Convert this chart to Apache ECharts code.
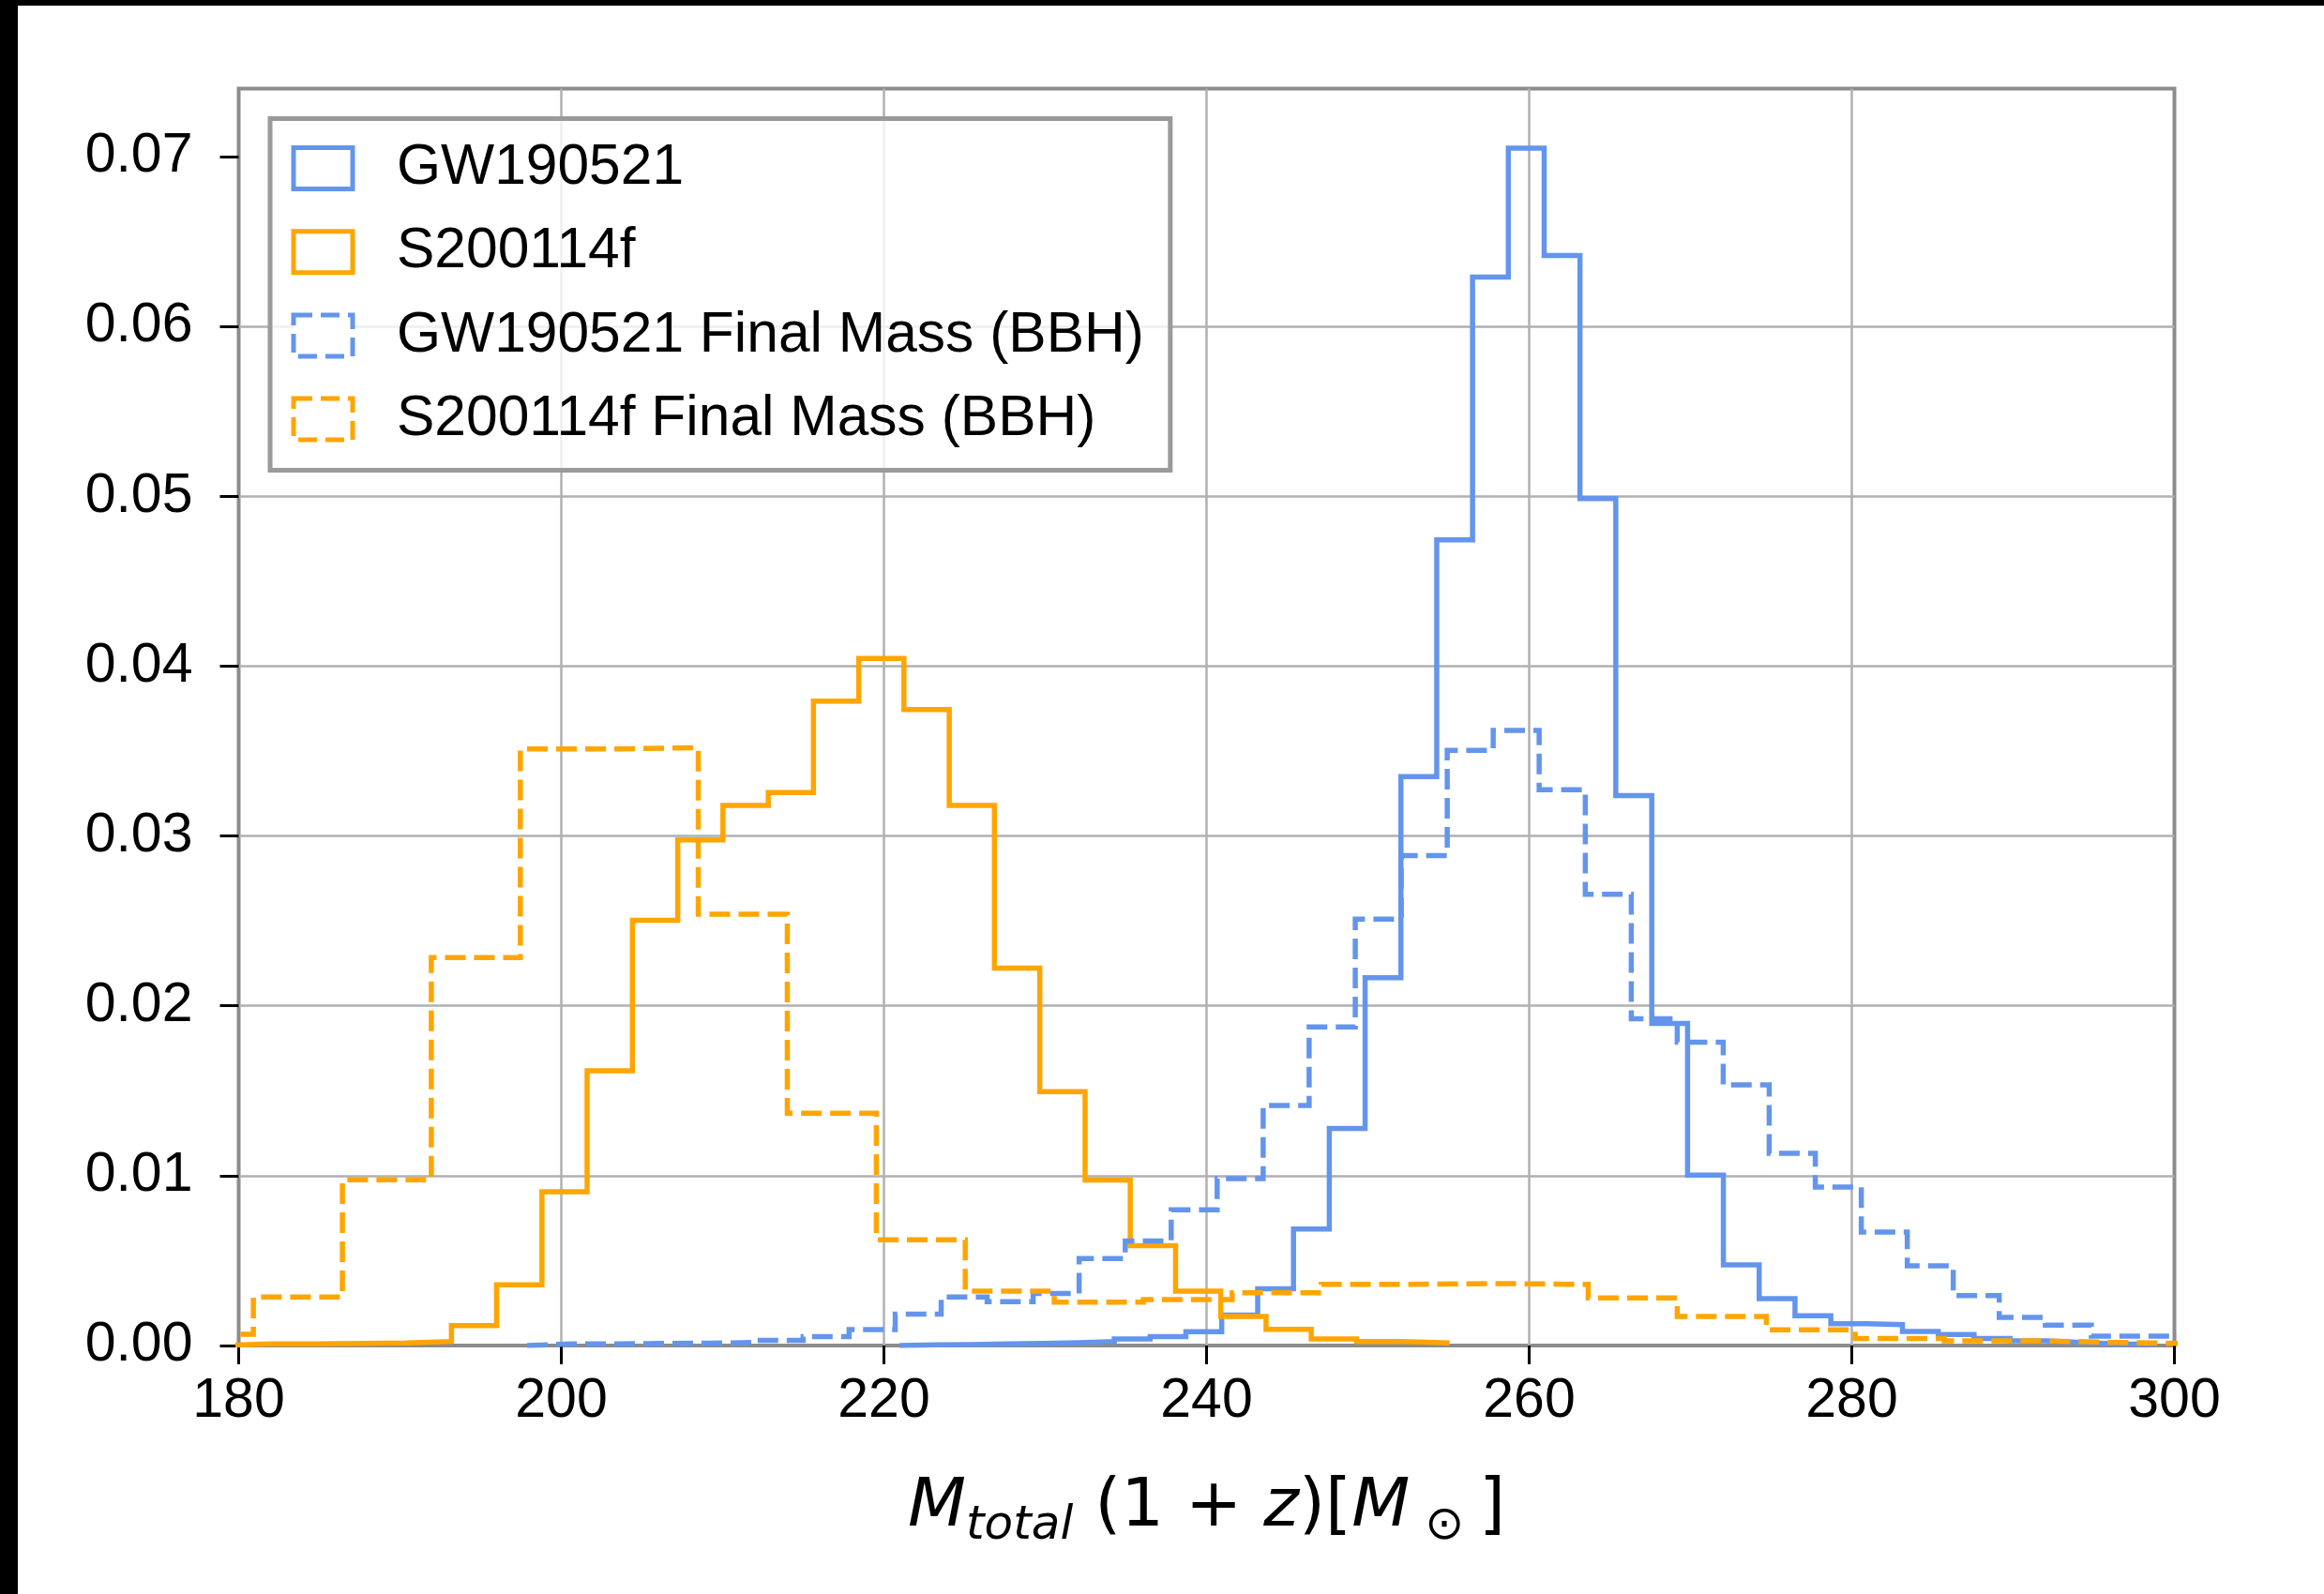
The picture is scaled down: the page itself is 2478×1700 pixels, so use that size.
<!DOCTYPE html>
<html>
<head>
<meta charset="utf-8">
<script src="https://cdn.jsdelivr.net/npm/echarts@6/dist/echarts.min.js"></script>
<style>
html,body{margin:0;padding:0;background:#ffffff;}
#chart{width:2478px;height:1700px;}
</style>
</head>
<body>
<div id="chart"></div>
<script>
// ---- data (histogram densities) ----
const seriesNames = ['GW190521', 'S200114f', 'GW190521 Final Mass (BBH)', 'S200114f Final Mass (BBH)'];

const gwEdges = [220.96, 223.18, 225.40, 227.62, 229.84, 232.06, 234.28, 236.50, 238.72, 240.94,
  243.17, 245.39, 247.61, 249.83, 252.05, 254.27, 256.49, 258.71, 260.93, 263.15,
  265.37, 267.60, 269.82, 272.04, 274.26, 276.48, 278.70, 280.92, 283.14, 285.36,
  287.58, 289.81, 292.03, 294.25, 296.47, 298.69];
const gwDensity = [0.00004, 0.00006, 0.0001, 0.00012, 0.00016, 0.00024, 0.00039, 0.00052, 0.00081, 0.00179,
  0.00334, 0.00686, 0.01278, 0.02165, 0.03349, 0.04743, 0.0629, 0.0705, 0.06417, 0.04986,
  0.03238, 0.01896, 0.01003, 0.00475, 0.00276, 0.00175, 0.00129, 0.00123, 0.00083, 0.00065,
  0.00042, 0.00028, 0.00018, 0.0001, 0.00008];

const sEdges = [179.16, 181.97, 184.77, 187.58, 190.38, 193.19, 195.99, 198.80, 201.60, 204.41,
  207.22, 210.02, 212.83, 215.63, 218.44, 221.24, 224.05, 226.85, 229.66, 232.47,
  235.27, 238.08, 240.88, 243.69, 246.49, 249.30, 252.10, 254.91];
const sDensity = [0.0001, 0.0001, 0.00012, 0.00015, 0.00024, 0.00117, 0.00357, 0.00906, 0.01617, 0.02504,
  0.02977, 0.0318, 0.03256, 0.03794, 0.04045, 0.03744, 0.0318, 0.02222, 0.01495, 0.00974,
  0.00588, 0.0032, 0.00171, 0.00095, 0.00039, 0.00024, 0.00016];

const gwFinalEdges = [197.88, 200.73, 203.58, 206.44, 209.29, 212.14, 214.99, 217.84, 220.70, 223.55,
  226.40, 229.25, 232.10, 234.96, 237.81, 240.66, 243.51, 246.36, 249.22, 252.07,
  254.92, 257.77, 260.62, 263.48, 266.33, 269.18, 272.03, 274.88, 277.74, 280.59,
  283.44, 286.29, 289.14, 292.00, 294.85, 297.70, 300.55];
const gwFinalDensity = [0.0001, 0.0001, 0.00012, 0.00014, 0.00018, 0.0003, 0.00052, 0.00094, 0.00185, 0.00286,
  0.00258, 0.00306, 0.00512, 0.00616, 0.00799, 0.00982, 0.01413, 0.01876, 0.0251, 0.02884,
  0.03504, 0.03622, 0.03272, 0.02657, 0.01924, 0.01786, 0.01534, 0.01132, 0.00933, 0.00668,
  0.00469, 0.00294, 0.00166, 0.0012, 0.00055, 0.00055];

const sFinalEdges = [175.39, 180.91, 186.43, 191.94, 197.46, 202.98, 208.49, 214.01, 219.53, 225.04,
  230.56, 236.08, 241.59, 247.11, 252.63, 258.15, 263.66, 269.18, 274.70, 280.21,
  285.73, 291.25, 296.76, 302.28];
const sFinalDensity = [0.00066, 0.00286, 0.00976, 0.02284, 0.03512, 0.0352, 0.0254, 0.01368, 0.00622, 0.0032,
  0.00255, 0.0027, 0.0031, 0.0036, 0.00365, 0.0036, 0.0028, 0.00171, 0.00092, 0.00042,
  0.00028, 0.00018, 0.0001];

const xTicks = [180, 200, 220, 240, 260, 280, 300];
const yTicks = [0, 0.01, 0.02, 0.03, 0.04, 0.05, 0.06, 0.07];

// ---- styling ----
const BLUE = '#6495ED';
const ORANGE = '#FFA500';
const FONT = "'Liberation Sans', Arial, Helvetica, sans-serif";
const MATHFONT = "'DejaVu Sans', sans-serif";

// histtype='step' outline from bin edges + heights
function stepOutline(edges, heights) {
  const pts = [[edges[0], 0]];
  for (let i = 0; i < heights.length; i++) {
    pts.push([edges[i], heights[i]]);
    pts.push([edges[i + 1], heights[i]]);
  }
  pts.push([edges[edges.length - 1], 0]);
  return pts;
}

function histSeries(name, edges, heights, color, dashed) {
  return {
    name: name,
    type: 'line',
    data: stepOutline(edges, heights),
    showSymbol: false,
    symbol: 'none',
    clip: true,
    animation: false,
    color: color,
    lineStyle: { color: color, width: 5.5, type: dashed ? [22, 9] : 'solid', cap: 'butt', join: 'miter' },
    emphasis: { disabled: true }
  };
}

function legendItem(name, color, dashed) {
  return {
    name: name,
    icon: 'rect',
    itemStyle: { color: '#ffffff', borderColor: color, borderWidth: 5, borderType: dashed ? [20, 9] : 'solid' }
  };
}

const chart = echarts.init(document.getElementById('chart'), null, { renderer: 'canvas' });

const option = {
  backgroundColor: '#ffffff',
  animation: false,
  graphic: [
    { type: 'rect', left: 0, top: 0, shape: { width: 19, height: 1700 }, style: { fill: '#000000' }, z: 100 },
    { type: 'rect', left: 0, top: 0, shape: { width: 2478, height: 6 }, style: { fill: '#000000' }, z: 100 }
  ],
  grid: {
    left: 254.5, right: 159.5, top: 94.5, bottom: 265,
    show: true, borderColor: '#8c8c8c', borderWidth: 4, backgroundColor: 'transparent',
    containLabel: false, outerBoundsMode: 'none'
  },
  legend: {
    orient: 'vertical',
    left: 288, top: 126.5,
    padding: [22.5, 28, 24, 22.5],
    itemWidth: 63, itemHeight: 44, itemGap: 28.2,
    backgroundColor: 'rgba(255,255,255,0.8)',
    borderColor: '#9a9a9a', borderWidth: 5, borderRadius: 0,
    selectedMode: false,
    textStyle: { fontFamily: FONT, fontSize: 60.5, color: '#000000', padding: [0, 0, 0, 42] },
    data: [
      legendItem(seriesNames[0], BLUE, false),
      legendItem(seriesNames[1], ORANGE, false),
      legendItem(seriesNames[2], BLUE, true),
      legendItem(seriesNames[3], ORANGE, true)
    ]
  },
  xAxis: {
    type: 'value',
    min: 180, max: 300, interval: 20,
    axisLine: { show: false },
    axisTick: { show: true, length: 20, lineStyle: { color: '#000000', width: 3 } },
    axisLabel: { fontFamily: FONT, fontSize: 59, color: '#000000', margin: 30,
      customValues: xTicks, formatter: v => String(v) },
    splitLine: { show: true, showMinLine: false, showMaxLine: false, lineStyle: { color: '#b0b0b0', width: 2.5 } },
    name: '{i|M}{s|total}{r| (1 + }{i|z}{r|)[}{i|M}{s| \u2299 }{r|]}',
    nameLocation: 'middle',
    nameGap: 128,
    nameTextStyle: {
      rich: {
        i: { fontFamily: MATHFONT, fontStyle: 'italic', fontSize: 72, color: '#000000' },
        r: { fontFamily: MATHFONT, fontSize: 72, color: '#000000' },
        s: { fontFamily: MATHFONT, fontStyle: 'italic', fontSize: 50, color: '#000000', padding: [40, 0, 0, 0] }
      }
    }
  },
  yAxis: {
    type: 'value',
    min: 0, max: 0.074,
    axisLine: { show: false },
    axisTick: { show: true, length: 20, lineStyle: { color: '#000000', width: 3 }, customValues: yTicks },
    axisLabel: { fontFamily: FONT, fontSize: 59, color: '#000000', margin: 49,
      customValues: yTicks, formatter: v => v.toFixed(2) },
    splitLine: { show: true, showMinLine: false, showMaxLine: false, lineStyle: { color: '#b0b0b0', width: 2.5 } }
  },
  series: [
    histSeries(seriesNames[0], gwEdges, gwDensity, BLUE, false),
    histSeries(seriesNames[1], sEdges, sDensity, ORANGE, false),
    histSeries(seriesNames[2], gwFinalEdges, gwFinalDensity, BLUE, true),
    histSeries(seriesNames[3], sFinalEdges, sFinalDensity, ORANGE, true)
  ]
};

chart.setOption(option);
</script>
</body>
</html>
